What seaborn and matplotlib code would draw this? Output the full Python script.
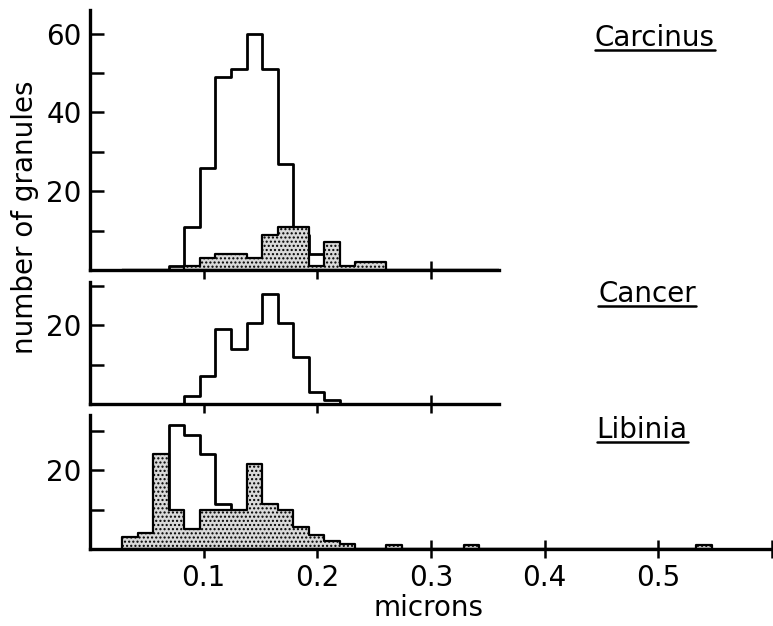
import numpy as np
import pandas as pd
import seaborn as sns
import matplotlib.pyplot as plt
from matplotlib.lines import Line2D

# bins are ~0.0137 micron wide, first edge at ~0.0285 micron
BIN_WIDTH = 0.01365
FIRST_EDGE = 0.0285
N_BINS = 38

# counts per bin, each series starting at bin index *_first
carcinus_open_first = 3
carcinus_open = [1, 11, 26, 49, 51, 60, 51, 27, 9, 4]
carcinus_shaded_first = 4
carcinus_shaded = [1, 3, 4, 4, 3, 9, 11, 11, 1, 7, 1, 2, 2]

cancer_open_first = 4
cancer_open = [2, 7, 19, 14, 20.5, 28, 20.5, 12, 3, 1]

libinia_open_first = 1
libinia_open = [4, 6, 31.5, 29, 24, 11.5, 1.5]
libinia_shaded_first = 0
libinia_shaded = [3, 4, 24, 10, 5, 10, 10, 10, 21.5, 11.5, 10, 5.5, 3.5, 2, 1.2]
libinia_shaded_extra_bins = [17, 22, 37]
libinia_shaded_extra = [1, 1, 1]

species = ["Carcinus", "Cancer", "Libinia"]

x_ticks_full = [0.1, 0.2, 0.3, 0.4, 0.5, 0.6]
x_ticklabels_full = ["0.1", "0.2", "0.3", "0.4", "0.5", ""]
x_ticks_short = [0.1, 0.2, 0.3]

edges = FIRST_EDGE + BIN_WIDTH * np.arange(N_BINS + 1)
centers = (edges[:-1] + edges[1:]) / 2
bin_list = list(edges)


def to_frame(first, counts, extra_bins=(), extra_counts=()):
    w = np.zeros(N_BINS)
    w[first:first + len(counts)] = counts
    for b, c in zip(extra_bins, extra_counts):
        w[b] = c
    return pd.DataFrame({"size": centers, "n": w})


sns.set_style("ticks")
plt.rcParams["font.family"] = ["DejaVu Sans"]
plt.rcParams["text.color"] = "black"
plt.rcParams["xtick.color"] = "black"
plt.rcParams["ytick.color"] = "black"
plt.rcParams["axes.edgecolor"] = "black"
plt.rcParams["hatch.linewidth"] = 1.0
plt.rcParams["hatch.color"] = "black"

W, H = 773, 626
fig = plt.figure(figsize=(W / 100, H / 100), dpi=100)

left = 90 / W
full_w = 682 / W
short_w = full_w * 0.36 / 0.6

ax_top = fig.add_axes([left, 1 - 270 / H, short_w, 260 / H])
ax_mid = fig.add_axes([left, 1 - 404 / H, short_w, 122 / H])
ax_bot = fig.add_axes([left, 1 - 549 / H, full_w, 134 / H])

open_kw = dict(element="step", fill=True, facecolor="white", edgecolor="black",
               linewidth=2.0, alpha=1)
shade_kw = dict(element="step", fill=True, facecolor="#d9d9d9", edgecolor="black",
                linewidth=1.6, hatch="....", alpha=1)

sns.histplot(data=to_frame(carcinus_open_first, carcinus_open), x="size", weights="n",
             bins=bin_list, ax=ax_top, zorder=1, **open_kw)
sns.histplot(data=to_frame(carcinus_shaded_first, carcinus_shaded), x="size", weights="n",
             bins=bin_list, ax=ax_top, zorder=2, **shade_kw)

sns.histplot(data=to_frame(cancer_open_first, cancer_open), x="size", weights="n",
             bins=bin_list, ax=ax_mid, zorder=1, **open_kw)

sns.histplot(data=to_frame(libinia_open_first, libinia_open), x="size", weights="n",
             bins=bin_list, ax=ax_bot, zorder=1, **open_kw)
sns.histplot(data=to_frame(libinia_shaded_first, libinia_shaded,
                           libinia_shaded_extra_bins, libinia_shaded_extra),
             x="size", weights="n", bins=bin_list, ax=ax_bot, zorder=2, **shade_kw)

limits = [(ax_top, 66, [10, 20, 30, 40, 50, 60], ["", "20", "", "40", "", "60"], 0.36),
          (ax_mid, 31, [10, 20, 30], ["", "20", ""], 0.36),
          (ax_bot, 34, [10, 20, 30], ["", "20", ""], 0.6)]

for ax, ymax, yt, ytl, xmax in limits:
    ax.set_xlim(0, xmax)
    ax.set_ylim(0, ymax)
    ax.set_yticks(yt)
    ax.set_yticklabels(ytl)
    ax.set_xlabel("")
    ax.set_ylabel("")
    sns.despine(ax=ax)
    for s in ["left", "bottom"]:
        ax.spines[s].set_linewidth(2.4)
        ax.spines[s].set_zorder(5)
    ax.tick_params(axis="y", direction="in", length=10, width=1.8, labelsize=20, pad=6)
    ax.tick_params(axis="x", direction="inout", length=13, width=1.8, labelsize=20, pad=4)
    ax.set_facecolor("none")

ax_top.set_xticks(x_ticks_short)
ax_top.set_xticklabels([])
ax_mid.set_xticks(x_ticks_short)
ax_mid.set_xticklabels([])
ax_bot.set_xticks(x_ticks_full)
ax_bot.set_xticklabels(x_ticklabels_full)

fig.text(25 / W, 1 - 217 / H, "number of granules", rotation=90,
         ha="center", va="center", fontsize=20)
fig.text(428 / W, 1 - 608 / H, "microns", ha="center", va="center", fontsize=20)

# species names on their baseline, underlined just below
name_pos = [(655, 46), (647, 302), (642, 438)]
labels = []
for name, (px, py) in zip(species, name_pos):
    labels.append(fig.text(px / W, 1 - py / H, name, ha="center", va="baseline",
                           fontsize=20))

fig.canvas.draw()
renderer = fig.canvas.get_renderer()
for t, (px, py) in zip(labels, name_pos):
    bb = t.get_window_extent(renderer).transformed(fig.transFigure.inverted())
    y = 1 - (py + 4) / H
    fig.add_artist(Line2D([bb.x0, bb.x1], [y, y], color="black", linewidth=1.8))

fig.savefig("out.png", dpi=100)
